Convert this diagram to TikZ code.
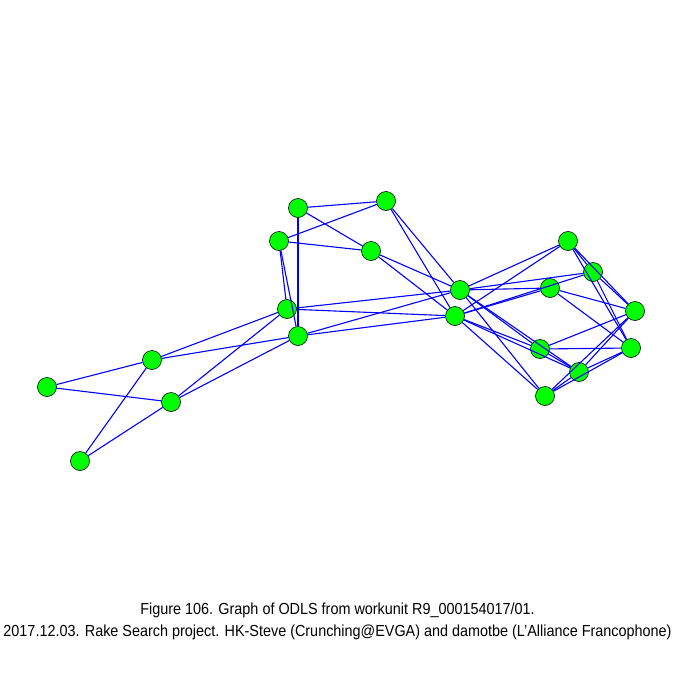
\documentclass[tikz,border=0pt]{standalone}
\usepackage{fontspec}
\setmainfont[FakeStretch=0.9]{Liberation Sans}
\begin{document}
\begin{tikzpicture}[x=1pt,y=-1pt,
  vtx/.style={circle,draw=black,line width=0.6pt,fill={rgb,255:red,0;green,255;blue,0},minimum size=19pt,inner sep=0pt},
  edge/.style={draw={rgb,255:red,0;green,0;blue,255},line width=1.1pt}]
\useasboundingbox (0,0) rectangle (675,675);
\node[vtx] (A) at (298,208) {};
\node[vtx] (B) at (386,201) {};
\node[vtx] (C) at (279,241) {};
\node[vtx] (D) at (371,251) {};
\node[vtx] (E) at (287,309) {};
\node[vtx] (F) at (298,336) {};
\node[vtx] (G) at (152,360) {};
\node[vtx] (H) at (47,387) {};
\node[vtx] (I) at (171,402) {};
\node[vtx] (J) at (80,461) {};
\node[vtx] (K) at (460,290) {};
\node[vtx] (L) at (455,316) {};
\node[vtx] (M) at (568,241) {};
\node[vtx] (N) at (593,272) {};
\node[vtx] (O) at (550,288) {};
\node[vtx] (P) at (635,311) {};
\node[vtx] (Q) at (631,348) {};
\node[vtx] (R) at (540,349) {};
\node[vtx] (S) at (579,372) {};
\node[vtx] (T) at (545,396) {};
\foreach \a/\b in {A/B,A/D,C/B,C/D,A/F,C/E,C/F,G/E,G/F,H/G,H/I,G/J,J/I,I/E,I/F,
  E/K,E/L,F/K,F/L,B/K,B/L,D/K,D/L,K/M,L/M,K/N,L/N,K/O,L/O,K/R,K/S,L/R,L/S,K/T,L/T,
  M/N,M/P,M/Q,N/P,N/Q,O/P,O/Q,R/P,R/Q,R/S,S/P,S/Q,T/S,T/P,T/Q}
  \draw[edge] (\a) -- (\b);
\node[font=\fontsize{16}{18}\selectfont,inner sep=0pt] (cap1) at (337.5,610) {Figure 106. Graph of ODLS from workunit R9\_000154017/01.};
\node[font=\fontsize{16}{18}\selectfont,inner sep=0pt] (cap2) at (337.5,632) {2017.12.03. Rake Search project. HK-Steve (Crunching@EVGA) and damotbe (L'Alliance Francophone)};
\end{tikzpicture}
\end{document}
